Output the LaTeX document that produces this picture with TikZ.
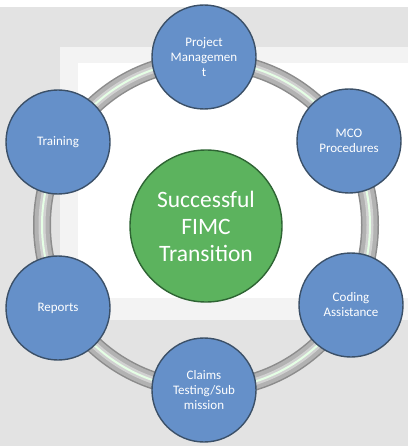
\documentclass[tikz,border=0pt]{standalone}
\usepackage{fontspec}
\setmainfont{Carlito}
\usepackage{tikz}

\definecolor{bluefill}{HTML}{6590C9}
\definecolor{blueedge}{HTML}{3B5068}
\definecolor{greenfill}{HTML}{5CB35E}
\definecolor{greenedge}{HTML}{2E6433}
\definecolor{backgray}{HTML}{E3E3E3}
\definecolor{bandgray}{HTML}{F3F3F3}

\begin{document}
\begin{tikzpicture}[x=1pt,y=-1pt,
	item/.style={circle,fill=bluefill,draw=blueedge,line width=1.4pt,minimum size=104pt,inner sep=0pt,
		text=white,align=center,font=\fontsize{13}{15}\selectfont},
	hub/.style={circle,fill=greenfill,draw=greenedge,line width=1.4pt,minimum size=152pt,inner sep=0pt,
		text=white,align=center,font=\fontsize{23.5}{27}\selectfont}]
\useasboundingbox (0,0) rectangle (408,446);
\fill[white] (0,0) rectangle (408,446);
\fill[backgray] (0,7) rectangle (408,446);
\fill[bandgray] (60,47) rectangle (408,320);
\fill[white] (78,63) rectangle (408,298);
% ring
\draw[line width=18pt,black!45] (206,225) circle (164);
\draw[line width=15pt,black!30] (206,225) circle (164);
\draw[line width=7pt,black!18] (206,225) circle (164);
\draw[line width=2pt,white!90!green] (206,225) circle (164);
\path (204,57) node[item] (pm) {Project\\Managemen\\t}
		(349,141) node[item] (mco) {MCO\\Procedures}
		(351,305) node[item] (code) {Coding\\Assistance}
		(204,390) node[item] (claims) {Claims\\Testing/Sub\\mission}
		(58,308) node[item] (rep) {Reports}
		(58,142) node[item] (train) {Training}
		(206,226) node[hub] (fimc) {Successful\\FIMC\\Transition}
		;
\end{tikzpicture}
\end{document}
